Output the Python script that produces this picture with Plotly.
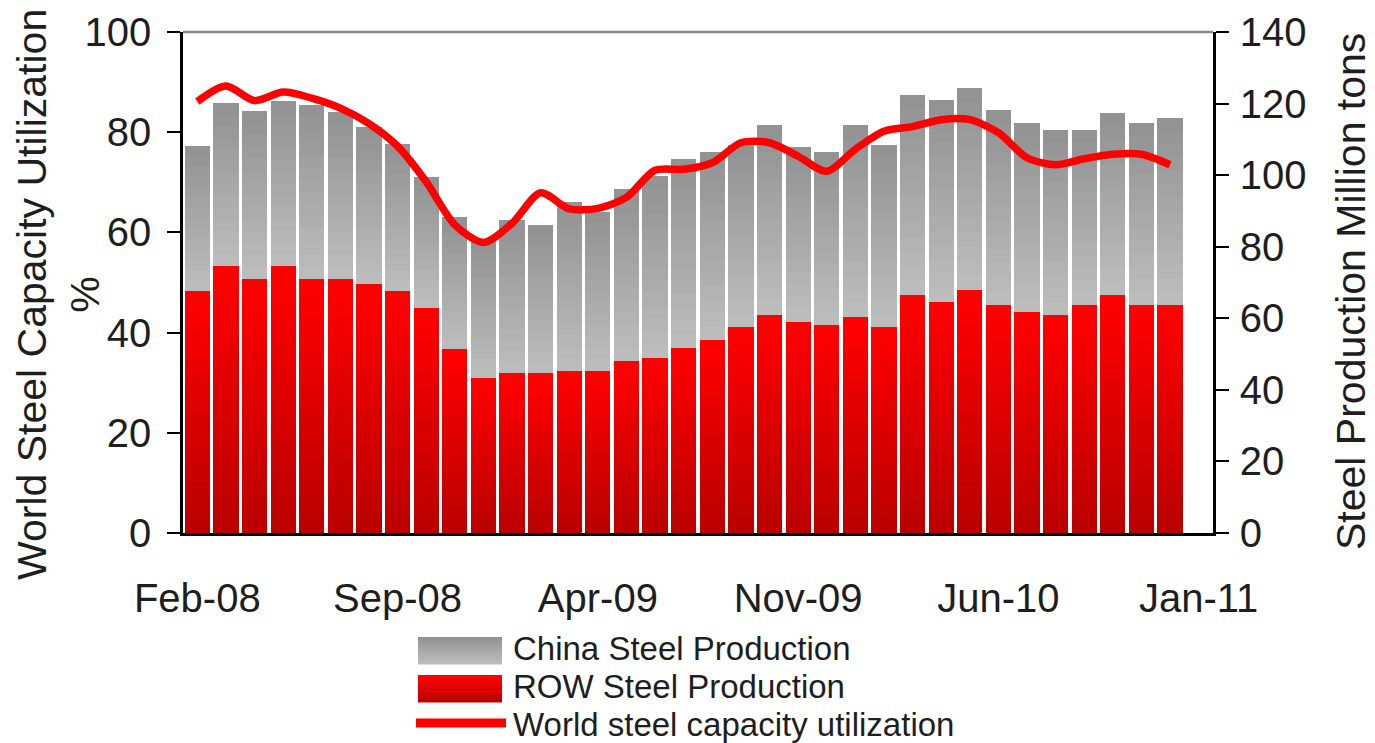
import plotly.graph_objects as go

# ---------------- data ----------------
months = ["Feb-08", "Mar-08", "Apr-08", "May-08", "Jun-08", "Jul-08", "Aug-08", "Sep-08",
          "Oct-08", "Nov-08", "Dec-08", "Jan-09", "Feb-09", "Mar-09", "Apr-09", "May-09",
          "Jun-09", "Jul-09", "Aug-09", "Sep-09", "Oct-09", "Nov-09", "Dec-09", "Jan-10",
          "Feb-10", "Mar-10", "Apr-10", "May-10", "Jun-10", "Jul-10", "Aug-10", "Sep-10",
          "Oct-10", "Nov-10", "Dec-10", "Jan-11"]
tick_labels = ["Feb-08", "Sep-08", "Apr-09", "Nov-09", "Jun-10", "Jan-11"]

# Million tons (right axis)
row_production = [67.6, 74.5, 71.1, 74.5, 71.1, 71.1, 69.7, 67.6, 62.9, 51.5, 43.3, 44.7,
                  44.7, 45.4, 45.4, 48.2, 48.9, 51.7, 54.0, 57.5, 61.0, 59.1, 58.2, 60.3,
                  57.5, 66.6, 64.5, 68.0, 63.8, 61.7, 61.0, 63.8, 66.6, 63.8, 63.8, None]
china_production = [40.6, 45.6, 46.9, 46.3, 48.5, 46.6, 43.7, 41.2, 36.6, 36.7, 38.6, 42.8,
                    41.4, 47.0, 44.3, 47.8, 50.8, 52.7, 52.4, 51.0, 53.0, 48.7, 48.2, 53.7,
                    50.9, 55.8, 56.5, 56.3, 54.4, 53.0, 51.6, 48.8, 50.9, 50.9, 52.3, None]
# Percent (left axis)
utilization = [86.1, 89.2, 86.3, 88.0, 86.8, 84.8, 81.7, 77.2, 70.1, 61.5, 58.0, 61.8,
               67.9, 64.7, 64.8, 67.0, 72.4, 72.6, 73.9, 77.9, 77.9, 75.2, 72.2, 76.6,
               80.2, 81.1, 82.5, 82.5, 79.9, 74.9, 73.5, 74.7, 75.6, 75.6, 73.5, None]

legend_names = ["China Steel Production", "ROW Steel Production",
                "World steel capacity utilization"]

# ---------------- styling ----------------
FONT = "Liberation Sans, Arial, sans-serif"
TXT = "#1e1e1e"
RED_TOP, RED_BOTTOM = (255, 0, 0), (188, 0, 0)
GRAY_TOP, GRAY_BOTTOM = (147, 147, 147), (188, 188, 188)
N_SLICES = 14


def mix(c1, c2, t):
    return "rgb({},{},{})".format(*[round(a + (b - a) * t) for a, b in zip(c1, c2)])


def sliced(values, n):
    return [None if v is None else v / n for v in values]


fig = go.Figure()

# ROW bars (bottom), vertical gradient: dark at bottom -> bright red at top
for k in range(N_SLICES):
    t = k / (N_SLICES - 1)
    fig.add_trace(go.Bar(
        x=months, y=sliced(row_production, N_SLICES), yaxis="y",
        marker=dict(color=mix(RED_BOTTOM, RED_TOP, t), line=dict(width=0)),
        name=legend_names[1], legendgroup="row", showlegend=False,
        hoverinfo="skip"))

# China bars (top), gradient: light at bottom -> darker gray at top
for k in range(N_SLICES):
    t = k / (N_SLICES - 1)
    fig.add_trace(go.Bar(
        x=months, y=sliced(china_production, N_SLICES), yaxis="y",
        marker=dict(color=mix(GRAY_BOTTOM, GRAY_TOP, t), line=dict(width=0)),
        name=legend_names[0], legendgroup="china", showlegend=False,
        hoverinfo="skip"))

# Utilization line (left axis)
fig.add_trace(go.Scatter(
    x=months, y=utilization, yaxis="y2", mode="lines",
    line=dict(color="#FF0000", width=7.5, shape="spline", smoothing=0.8),
    name=legend_names[2], showlegend=False))

# page offset (default 8px body margin of the html page)
OFF = 8
SW, SH = 1375, 743                      # screen size
PL, PR, PT, PB = 183, 1213, 32, 533     # plot area in screen pixels
W, H = SW - OFF, SH - OFF
PW, PH = PR - PL, PB - PT


def px_x(x):
    return (x - PL) / PW


def px_y(y):
    return (PB - y) / PH


shapes = [dict(type="line", xref="paper", yref="paper", x0=0, x1=1, y0=1, y1=1,
               line=dict(color="#8a8a8a", width=2.5))]

# manual legend swatches
n_sw = 10
for (top_c, bot_c, y0, y1) in [(GRAY_TOP, GRAY_BOTTOM, 637, 664), (RED_TOP, RED_BOTTOM, 675, 702)]:
    h = (y1 - y0) / n_sw
    for i in range(n_sw):
        t = i / (n_sw - 1)
        shapes.append(dict(type="rect", xref="paper", yref="paper",
                           x0=px_x(418), x1=px_x(502),
                           y0=px_y(y0 + i * h), y1=px_y(y0 + (i + 1) * h + 0.6),
                           line=dict(width=0), fillcolor=mix(top_c, bot_c, t)))
shapes.append(dict(type="line", xref="paper", yref="paper", x0=px_x(416), x1=px_x(506),
                   y0=px_y(723), y1=px_y(723), line=dict(color="#FF0000", width=9)))

annotations = [
    dict(text="World Steel Capacity Utilization<br>%", textangle=-90, showarrow=False,
         xref="paper", yref="paper", x=px_x(58), y=px_y(295), xanchor="center", yanchor="middle",
         font=dict(size=41, color=TXT, family=FONT)),
    dict(text="Steel Production Million tons", textangle=-90, showarrow=False,
         xref="paper", yref="paper", x=px_x(1351), y=px_y(292), xanchor="center", yanchor="middle",
         font=dict(size=41, color=TXT, family=FONT)),
]
for name, yc in zip(legend_names, [648, 686, 724]):
    annotations.append(dict(text=name, showarrow=False, xref="paper", yref="paper",
                            x=px_x(511), y=px_y(yc), xanchor="left", yanchor="middle",
                            font=dict(size=33, color=TXT, family=FONT)))

fig.update_layout(
    width=W, height=H,
    margin=dict(l=PL - OFF, r=W - (PR - OFF), t=PT - OFF, b=H - (PB - OFF), autoexpand=False),
    paper_bgcolor="white", plot_bgcolor="white",
    barmode="stack", bargap=0.12,
    showlegend=False,
    font=dict(family=FONT, size=40, color=TXT),
    xaxis=dict(type="category", categoryorder="array", categoryarray=months,
               range=[-0.5, len(months) - 0.5], automargin=False,
               tickmode="array", tickvals=tick_labels, ticktext=tick_labels,
               showline=True, linecolor="black", linewidth=2.5, ticks="",
               showgrid=False, zeroline=False, ticklabelstandoff=28,
               tickfont=dict(size=40, color=TXT, family=FONT)),
    yaxis=dict(side="right", range=[0, 140], dtick=20, showgrid=False, zeroline=False,
               automargin=False,
               showline=True, linecolor="black", linewidth=2.5,
               ticks="outside", ticklen=13, tickwidth=2, tickcolor="black",
               ticklabelstandoff=3,
               tickfont=dict(size=40, color=TXT, family=FONT)),
    yaxis2=dict(overlaying="y", side="left", anchor="x", range=[0, 100], dtick=20,
                showgrid=False, zeroline=False, automargin=False,
                showline=True, linecolor="black", linewidth=2.5,
                ticks="outside", ticklen=13, tickwidth=2, tickcolor="black",
                ticklabelstandoff=8,
                tickfont=dict(size=40, color=TXT, family=FONT)),
    shapes=shapes,
    annotations=annotations,
)

fig.write_html("out.html")
